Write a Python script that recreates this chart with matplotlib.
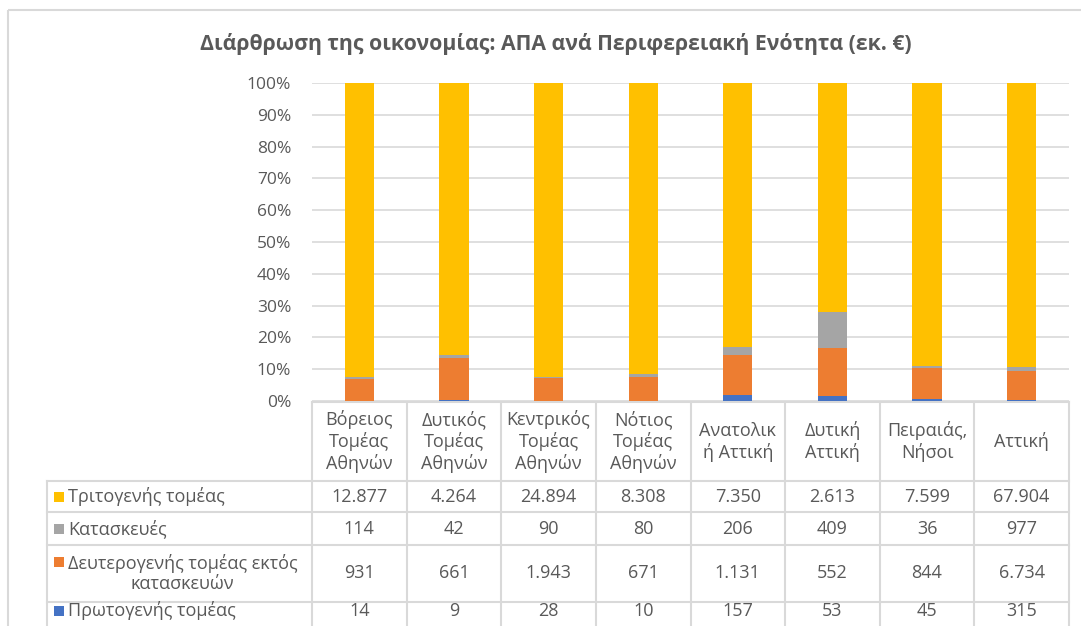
import numpy as np
import matplotlib.pyplot as plt
from matplotlib.lines import Line2D
from matplotlib.patches import Rectangle

plt.rcParams['font.family'] = ['Open Sans', 'DejaVu Sans']

categories = ['Βόρειος\nΤομέας\nΑθηνών', 'Δυτικός\nΤομέας\nΑθηνών', 'Κεντρικός\nΤομέας\nΑθηνών',
              'Νότιος\nΤομέας\nΑθηνών', 'Ανατολικ\nή Αττική', 'Δυτική\nΑττική', 'Πειραιάς,\nΝήσοι', 'Αττική']
primary = [14, 9, 28, 10, 157, 53, 45, 315]
secondary = [931, 661, 1943, 671, 1131, 552, 844, 6734]
construction = [114, 42, 90, 80, 206, 409, 36, 977]
tertiary = [12877, 4264, 24894, 8308, 7350, 2613, 7599, 67904]

# bottom to top in the stack
series = [('Πρωτογενής τομέας', primary, '#4472C4'),
          ('Δευτερογενής τομέας εκτός\nκατασκευών', secondary, '#ED7D31'),
          ('Κατασκευές', construction, '#A5A5A5'),
          ('Τριτογενής τομέας', tertiary, '#FFC000')]

W, H = 1081, 626
fig = plt.figure(figsize=(W / 100, H / 100), dpi=100)
txt = '#595959'
grid = '#D9D9D9'

# pixel layout of the plot area
x0, x1 = 312, 1069
ytop, ybot = 83, 401
ax = fig.add_axes([x0 / W, 1 - ybot / H, (x1 - x0) / W, (ybot - ytop) / H])

n = len(categories)
xs = np.arange(n)
total = np.sum([s[1] for s in series], axis=0)
bottom = np.zeros(n)
for name, vals, col in series:
    pct = np.array(vals) / total
    ax.bar(xs, pct, 0.31, bottom=bottom, color=col, zorder=3)
    bottom += pct

ax.set_xlim(-0.5, n - 0.5)
ax.set_ylim(0, 1)
ax.set_yticks(np.arange(0, 1.01, 0.1))
ax.set_yticklabels([f'{int(round(v * 100))}%' for v in np.arange(0, 1.01, 0.1)])
ax.set_xticks([])
ax.tick_params(axis='y', length=0, pad=15, labelsize=12.5, labelcolor=txt)
ax.grid(axis='y', color=grid, linewidth=1.2, zorder=0)
for s in ax.spines.values():
    s.set_visible(False)

fig.suptitle('Διάρθρωση της οικονομίας: ΑΠΑ ανά Περιφερειακή Ενότητα (εκ. €)',
             x=556 / W, y=1 - 44 / H, va='center', fontsize=15.3, fontweight='bold', color=txt)

# overlay in pixel coordinates for the data table and the outer border
ov = fig.add_axes([0, 0, 1, 1], zorder=-1)
ov.set_xlim(0, W)
ov.set_ylim(H, 0)
ov.axis('off')
ov.add_patch(Rectangle((8, 10), W + 20, H + 20, fill=False, edgecolor=grid, linewidth=1.5))

colw = (x1 - x0) / n
col_edges = [x0 + i * colw for i in range(n + 1)]
row_edges = [402, 481, 512, 545, 602, 620]
lab_left = 47
fs = 13

# header row
for i, c in enumerate(categories):
    ov.text(x0 + (i + 0.5) * colw, (row_edges[0] + row_edges[1]) / 2, c, ha='center', va='center',
            fontsize=fs, color=txt, linespacing=1.2)

# data rows, tertiary first (top of the stack)
fmt = lambda v: f'{v:,}'.replace(',', '.')
for r, (name, vals, col) in enumerate(series[::-1]):
    yc = (row_edges[r + 1] + row_edges[r + 2]) / 2
    for i, v in enumerate(vals):
        ov.text(x0 + (i + 0.5) * colw, yc, fmt(v), ha='center', va='center', fontsize=fs, color=txt)
    ysq = yc - 12 if '\n' in name else yc
    ov.add_patch(Rectangle((54, ysq - 5), 10, 10, color=col, linewidth=0))
    ov.text(68, yc, name, ha='left', va='center', fontsize=fs, color=txt,
            multialignment='center', linespacing=1.2)

# table lines (bottom of the last row lies outside the picture)
for xe in col_edges:
    ov.add_line(Line2D([xe, xe], [row_edges[0], H + 5], color=grid, linewidth=1.5))
ov.add_line(Line2D([lab_left, lab_left], [row_edges[1], H + 5], color=grid, linewidth=1.5))
ov.add_line(Line2D([x0, x1], [row_edges[0], row_edges[0]], color=grid, linewidth=1.5))
for ye in row_edges[1:-1]:
    ov.add_line(Line2D([lab_left, x1], [ye, ye], color=grid, linewidth=1.5))

fig.savefig('out.png', dpi=100)
